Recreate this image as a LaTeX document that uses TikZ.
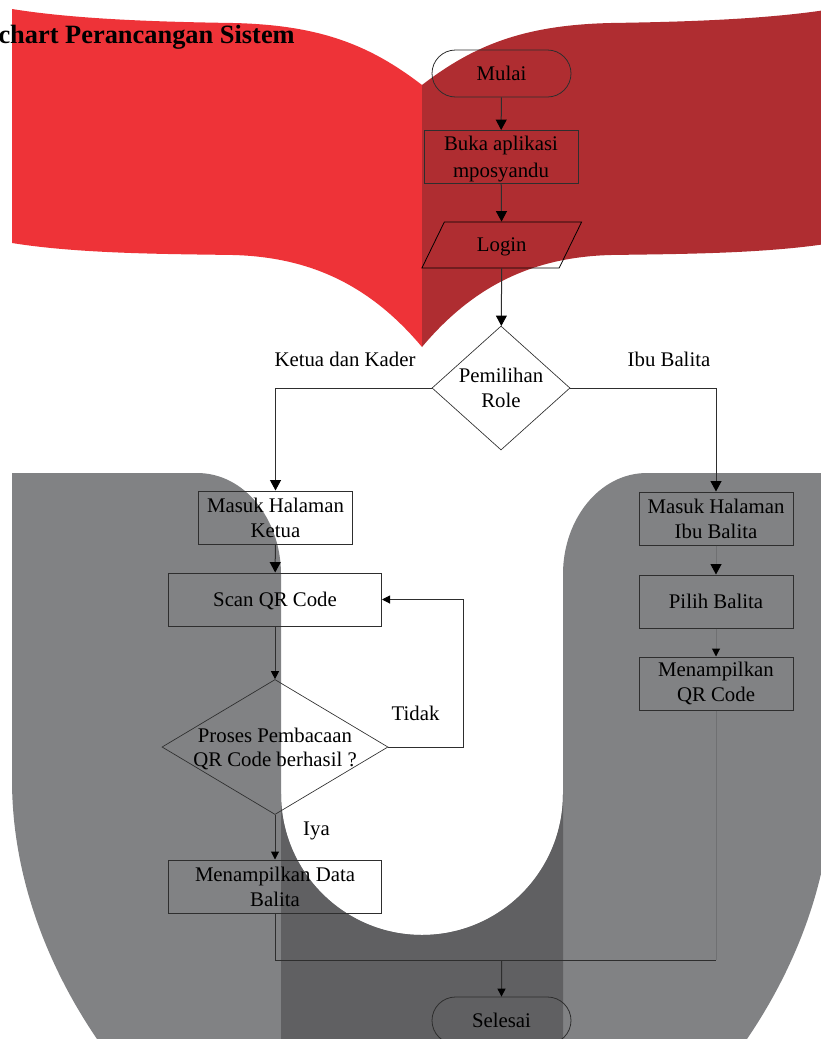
\documentclass[tikz,border=0pt]{standalone}
\usepackage{fontspec}
\setmainfont{Liberation Serif}
\usetikzlibrary{arrows, arrows.meta}
\usetikzlibrary{shapes.geometric, shapes.misc}

\definecolor{pagered}{HTML}{EE3338}
\definecolor{pagedark}{HTML}{AF2D31}
\definecolor{ugray}{HTML}{818284}
\definecolor{udark}{HTML}{606062}
\definecolor{wire}{HTML}{2E2E2E}
\definecolor{wirefaint}{HTML}{6F7072}

\tikzset{
  every node/.style={font=\fontsize{15.6}{18.8}\selectfont, align=center, inner sep=0pt, draw=none},
  procbox/.style={rectangle, draw=wire, line width=0.75pt, minimum width=115.5pt, minimum height=39.75pt},
  widebox/.style={procbox, minimum width=159.75pt},
  terminal/.style={rounded rectangle, draw=wire, line width=0.6pt, minimum width=104.25pt, minimum height=35.25pt},
  decide/.style={diamond, draw=wire, line width=0.5pt},
  inout/.style={trapezium, trapezium left angle=62, trapezium right angle=118, trapezium stretches=true,
    draw=black, line width=0.6pt, minimum width=120.4pt, minimum height=34.5pt},
  wireline/.style={draw=wire, line width=0.75pt},
  flow/.style={wireline, -{Triangle[width=8.2pt, length=7.8pt, color=black]}},
  flowsmall/.style={wireline, -{Triangle[width=6pt, length=6pt, color=black]}},
  faint/.style={draw=wirefaint}
}

\begin{document}
\begin{tikzpicture}[x=0.75pt, y=-0.75pt]
  \useasboundingbox (0,0) rectangle (821,1039);

  % logo behind the chart
  \begin{scope}
    \clip (0,0) rectangle (821,1039);
    \fill[pagered] (12,9) .. controls (80,20) and (170,22) .. (233,23)
      .. controls (320,25) and (370,45) .. (422,85) -- (422,347)
      .. controls (370,285) and (310,257) .. (233,255)
      .. controls (170,254) and (80,254) .. (12,243) -- cycle;
    \fill[pagedark] (832,9) .. controls (764,20) and (674,22) .. (611,23)
      .. controls (524,25) and (474,45) .. (422,85) -- (422,347)
      .. controls (474,285) and (534,257) .. (611,255)
      .. controls (674,254) and (764,254) .. (832,243) -- cycle;
    \fill[ugray] (12,473) -- (197,473) .. controls (245,473) and (281,520) .. (281,574)
      -- (281,794) arc[start angle=180, end angle=360, x radius=141, y radius=-141]
      -- (563,574) .. controls (563,520) and (599,473) .. (647,473) -- (832,473)
      -- (832,780) .. controls (832,880) and (794,970) .. (747,1039) -- (97,1039)
      .. controls (50,970) and (12,880) .. (12,780) -- cycle;
    \fill[udark] (281,794) arc[start angle=180, end angle=360, x radius=141, y radius=-141]
      -- (563,1039) -- (281,1039) -- cycle;
  \end{scope}

  \node[anchor=base east, font=\fontsize{19.8}{24}\selectfont\bfseries] (title) at (295,43) {chart Perancangan Sistem};

  \node[terminal] (mulai) at (501.5,73.5) {Mulai};
  \node[procbox, text height=33.5pt] (buka) at (501,157) {Buka aplikasi\\[1.5pt]mposyandu};
  \node[inout, label={[yshift=-1.5pt]center:Login}] (login) at (501.75,245) {\phantom{Login}};
  \node[decide, minimum width=103.5pt, minimum height=93pt,
    label={[align=center]center:Pemilihan\\Role}] (role) at (501,388) {};

  \node (ketuakader) at (345,359) {Ketua dan Kader};
  \node (ibubalita) at (669,359) {Ibu Balita};

  \node[procbox] (masukketua) at (275.5,517.5) {Masuk Halaman\\Ketua};
  \node[widebox, text height=13.2pt] (scan) at (275,599.5) {Scan QR Code};
  \node[decide, minimum width=169.5pt, minimum height=101.25pt,
    label={[align=center, text height=31.25pt]center:Proses Pembacaan\\[-0.75pt]QR Code berhasil ?}] (cek) at (275,747) {};
  \node (tidak) at (415.5,713) {Tidak};
  \node[text height=13.2pt] (iya) at (316.5,829) {Iya};
  \node[widebox] (data) at (275,886.5) {Menampilkan Data\\Balita};

  \node[procbox] (masukibu) at (716,518.5) {Masuk Halaman\\Ibu Balita};
  \node[procbox] (pilih) at (716,601.5) {Pilih Balita};
  \node[procbox] (qr) at (716,683.5) {Menampilkan\\QR Code};

  \node[terminal] (selesai) at (501.5,1020.5) {Selesai};

  \coordinate (back) at (463,747);
  \coordinate (merge) at (501.5,960);
  \coordinate (corner) at (275,960);
  \coordinate (cornerr) at (716,960);

  \draw[flow] (mulai) -- (buka);
  \draw[flow] (buka) -- (login);
  \draw[flow] (login) -- (role);
  \draw[flow] (role.west) -| (masukketua.north);
  \draw[flow] (role.east) -| (masukibu.north);
  \draw[flow] (masukketua) -- (scan);
  \draw[flowsmall] (scan) -- (cek);
  \draw[flowsmall] (cek) -- (data);
  \draw[flowsmall] (cek.east) -- (back) |- (scan.east);
  \draw[flow, faint] (masukibu) -- (pilih);
  \draw[flowsmall, faint] (pilih) -- (qr);
  \draw[wireline] (data.south) -- (corner) -- (cornerr);
  \draw[wireline, faint] (qr.south) -- (cornerr);
  \draw[flowsmall] (merge) -- (selesai);
\end{tikzpicture}
\end{document}
